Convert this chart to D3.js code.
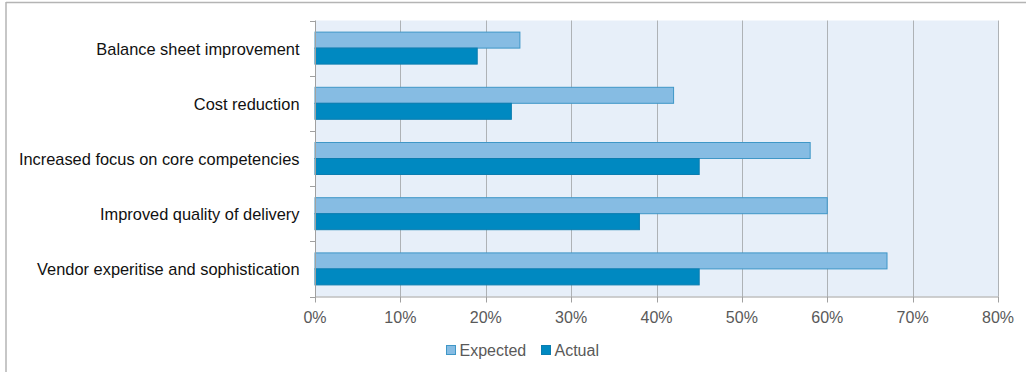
<!DOCTYPE html>
<html><head><meta charset="utf-8">
<script src="https://cdn.jsdelivr.net/npm/d3@7"></script>
<style>body{margin:0;background:#fff}svg{display:block}</style>
</head><body>
<svg id="c" width="1026" height="372"></svg>
<script>
const categories = ["Balance sheet improvement","Cost reduction","Increased focus on core competencies","Improved quality of delivery","Vendor experitise and sophistication"];
const series = ["Expected","Actual"];
const expected = [24,42,58,60,67];
const actual = [19,23,45,38,45];
const xTicks = [0,10,20,30,40,50,60,70,80];

const svg = d3.select("#c");
const font = "'Liberation Sans', Arial, sans-serif";
const L = 315, R = 998, T = 20.5, B = 296.5;

// frame
svg.append("line").attr("x1",6).attr("x2",1026).attr("y1",2.5).attr("y2",2.5).attr("stroke","#b4b4b4").attr("stroke-width",1.5);
svg.append("line").attr("x1",6).attr("x2",6).attr("y1",2).attr("y2",372).attr("stroke","#b4b4b4").attr("stroke-width",1.5);

const x = d3.scaleLinear().domain([0,80]).range([L,R]);
const y0 = d3.scaleBand().domain(categories).range([T,B]).padding(0);
const y1 = d3.scaleBand().domain(series).range([0,y0.bandwidth()]).paddingInner(0).paddingOuter(0.725);

svg.append("rect").attr("x",L).attr("y",T).attr("width",R-L).attr("height",B-T).attr("fill","#e7eff9");

// gridlines
svg.append("g").selectAll("line").data(xTicks.filter(d=>d>0)).join("line")
  .attr("x1",d=>Math.round(x(d))+0.5).attr("x2",d=>Math.round(x(d))+0.5)
  .attr("y1",T).attr("y2",B).attr("stroke","#aeb2b6").attr("stroke-width",1);

// bars
const data = categories.map((c,i)=>({c, vals:[{s:"Expected",v:expected[i]},{s:"Actual",v:actual[i]}]}));
const fills = {Expected:"#86bce3", Actual:"#0089c1"};
const strokes = {Expected:"#3f97c7", Actual:"#0b7db0"};
svg.append("g").selectAll("g").data(data).join("g")
  .attr("transform",d=>`translate(0,${y0(d.c)})`)
  .selectAll("rect").data(d=>d.vals).join("rect")
  .attr("x",x(0)).attr("y",d=>y1(d.s)).attr("width",d=>x(d.v)-x(0)).attr("height",y1.bandwidth())
  .attr("fill",d=>fills[d.s]).attr("stroke",d=>strokes[d.s]).attr("stroke-width",1);

// axes
const axisColor = "#a0a0a0";
svg.append("line").attr("x1",L+0.5).attr("x2",L+0.5).attr("y1",T).attr("y2",B+0.5).attr("stroke",axisColor);
svg.append("line").attr("x1",L).attr("x2",R).attr("y1",B+0.5).attr("y2",B+0.5).attr("stroke",axisColor);
const yTicks = categories.map(c=>y0(c)).concat([B]);
svg.append("g").selectAll("line").data(yTicks).join("line")
  .attr("x1",L-5).attr("x2",L).attr("y1",d=>Math.round(d)+0.5).attr("y2",d=>Math.round(d)+0.5).attr("stroke",axisColor);
svg.append("g").selectAll("line").data(xTicks).join("line")
  .attr("x1",d=>Math.round(x(d))+0.5).attr("x2",d=>Math.round(x(d))+0.5).attr("y1",B).attr("y2",B+6).attr("stroke",axisColor);

// tick labels
svg.append("g").selectAll("text").data(xTicks).join("text")
  .attr("x",d=>x(d)).attr("y",322.5).attr("text-anchor","middle")
  .attr("font-family",font).attr("font-size",16).attr("fill","#595959")
  .text(d=>d+"%");
svg.append("g").selectAll("text").data(categories).join("text")
  .attr("x",299.5).attr("y",c=>y0(c)+y0.bandwidth()/2+6.5).attr("text-anchor","end")
  .attr("font-family",font).attr("font-size",16.4).attr("fill","#111")
  .text(c=>c);

// legend
const lg = svg.append("g");
const legendX = {Expected:446.5, Actual:541.5};
series.forEach(s=>{
  lg.append("rect").attr("x",legendX[s]).attr("y",345.5).attr("width",9).attr("height",9)
    .attr("fill",fills[s]).attr("stroke",strokes[s]);
  lg.append("text").attr("x",legendX[s]+13).attr("y",355.5)
    .attr("font-family",font).attr("font-size",16).attr("fill","#595959").text(s);
});
</script>
</body></html>
